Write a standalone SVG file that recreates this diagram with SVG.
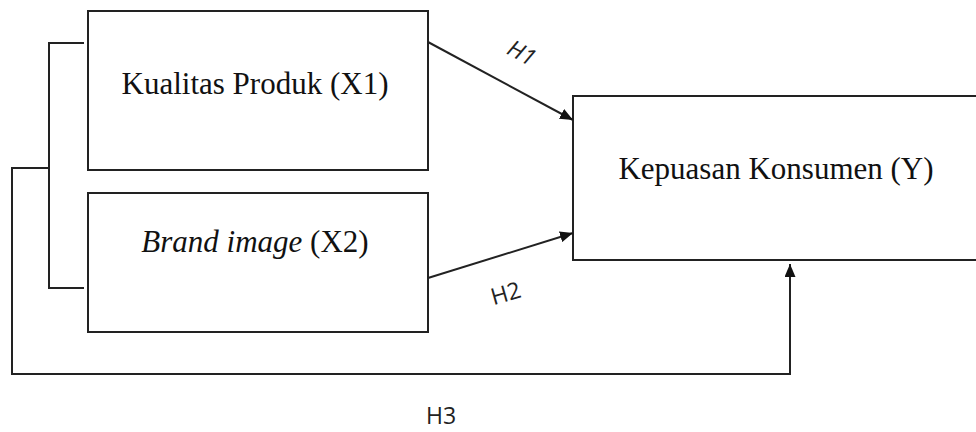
<svg xmlns="http://www.w3.org/2000/svg" width="976" height="432" viewBox="0 0 976 432">
<style>
.box{fill:#fff;stroke:#222;stroke-width:2}
.ln{fill:none;stroke:#222;stroke-width:2}
.t{font-family:"Liberation Serif","Times New Roman",serif;font-size:31px;fill:#111;text-anchor:middle}
.h{font-family:"Open Sans","Liberation Sans",sans-serif;font-size:23px;fill:#222;text-anchor:middle}
</style>
<defs>
<marker id="ah" markerWidth="13" markerHeight="11" refX="13" refY="5.5" orient="auto" markerUnits="userSpaceOnUse">
<path d="M0,0 L13,5.5 L0,11 Z" fill="#111"/>
</marker>
</defs>
<g id="x1">
<rect class="box" x="88" y="11" width="340" height="159"/>
<text class="t" x="255" y="94">Kualitas Produk (X1)</text>
</g>
<g id="x2">
<rect class="box" x="88" y="193" width="340" height="139"/>
<text class="t" x="255" y="252"><tspan font-style="italic">Brand image</tspan> (X2)</text>
</g>
<g id="y">
<rect class="box" x="573" y="96" width="420" height="164"/>
<text class="t" x="776" y="179">Kepuasan Konsumen (Y)</text>
</g>
<g id="connectors">
<path class="ln" d="M84,43 H49 V288 H84"/>
<path class="ln" d="M49,168 H12 V374 H790 V264" marker-end="url(#ah)"/>
<path class="ln" d="M428,42 L573,120" marker-end="url(#ah)"/>
<path class="ln" d="M428,278 L573,233" marker-end="url(#ah)"/>
<text class="h" font-style="italic" transform="translate(518,60) rotate(28)">H1</text>
<text class="h" transform="translate(508,301) rotate(-16)">H2</text>
<text class="h" x="441" y="424">H3</text>
</g>
</svg>
